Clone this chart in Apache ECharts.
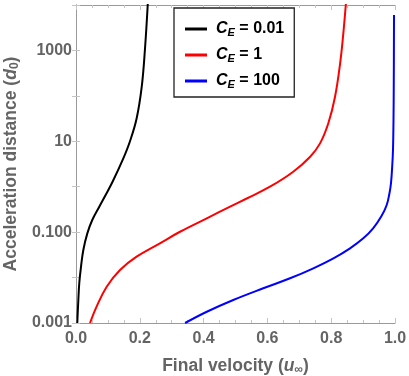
<!DOCTYPE html>
<html>
<head>
<meta charset="utf-8">
<script src="https://cdn.jsdelivr.net/npm/echarts@6/dist/echarts.min.js"></script>
<style>
html,body{margin:0;padding:0;background:#fff;}
#main{width:409px;height:376px;}
</style>
</head>
<body>
<div id="main"></div>
<script>
// ---- data ----
const seriesNames = ['C_E = 0.01', 'C_E = 1', 'C_E = 100'];
const legendValues = ['0.01', '1', '100'];

const blackU = [0.004, 0.0073, 0.0103, 0.0157, 0.0230, 0.0355, 0.051, 0.073, 0.092, 0.115, 0.148, 0.169, 0.190, 0.206, 0.216, 0.225];
const blackD = [0.001, 0.0032, 0.0076, 0.0173, 0.0405, 0.094, 0.185, 0.363, 0.64, 1.30, 4.15, 9.9, 31.6, 157, 1020, 10500];

const redU = [0.0439, 0.0649, 0.0962, 0.138, 0.190, 0.263, 0.326, 0.410, 0.483, 0.535, 0.608, 0.681, 0.734, 0.765, 0.791, 0.812, 0.828, 0.838, 0.846];
const redD = [0.001, 0.00232, 0.0063, 0.0147, 0.0288, 0.0568, 0.102, 0.202, 0.363, 0.55, 1.0, 2.14, 4.58, 9.0, 24.9, 95.8, 521, 2380, 10500];

const blueU = [0.342, 0.410, 0.493, 0.587, 0.671, 0.744, 0.807, 0.859, 0.9006, 0.932, 0.9577, 0.974, 0.9828, 0.9875, 0.9915, 0.9937, 0.9953, 0.9962, 0.9969];
const blueD = [0.001, 0.00177, 0.00321, 0.00581, 0.00964, 0.016, 0.0265, 0.044, 0.073, 0.123, 0.226, 0.395, 0.727, 1.21, 3.0, 6.43, 29.4, 223, 6030];

const yTickLabels = {'-3': '0.001', '-1': '0.100', '1': '10', '3': '1000'};

// ---- chart ----
const gray = '#646464';
const frame = '#9a9a9a';
const tickCol = '#c4c4c4';
const font = '"Liberation Sans", Arial, Helvetica, sans-serif';

function zip(u, d) { return u.map((v, i) => [v, d[i]]); }

const chart = echarts.init(document.getElementById('main'), null, {renderer: 'canvas'});

const xCommon = {
  type: 'value', min: 0, max: 1, interval: 0.2,
  axisLine: {show: true, onZero: false, lineStyle: {color: frame, width: 1}},
  axisTick: {show: true, inside: true, length: 5, lineStyle: {color: tickCol}},
  minorTick: {show: true, splitNumber: 4, length: 3, lineStyle: {color: tickCol}},
  splitLine: {show: false}, minorSplitLine: {show: false}
};
const yCommon = {
  type: 'log', logBase: 10, min: 0.001, max: 10000, splitNumber: 7,
  axisLine: {show: true, lineStyle: {color: frame, width: 1}},
  axisTick: {show: true, inside: true, length: 4, lineStyle: {color: tickCol}},
  splitLine: {show: false}
};

const titleRich = {
  t: {fontFamily: font, fontWeight: 'bold', fontSize: 17.5, color: gray},
  i: {fontFamily: font, fontWeight: 'bold', fontStyle: 'italic', fontSize: 17.5, color: gray},
  s: {fontFamily: font, fontWeight: 'bold', fontSize: 12, color: gray, padding: [7, 0, 0, 0]}
};

const option = {
  animation: false,
  backgroundColor: '#fff',
  grid: {left: 76, right: 14, top: 5, bottom: 53, containLabel: false, outerBoundsMode: 'none'},
  legend: {
    orient: 'vertical', left: 174, top: 8,
    data: seriesNames,
    icon: 'rect', itemWidth: 22, itemHeight: 3, itemGap: 9,
    backgroundColor: '#fff', borderColor: '#222', borderWidth: 1.3, borderRadius: 0,
    padding: [13, 10, 7, 11],
    formatter: function (name) {
      const k = seriesNames.indexOf(name);
      return '{c|C}{s|E}{t| = ' + legendValues[k] + '}';
    },
    textStyle: {
      fontFamily: font, color: '#000',
      rich: {
        c: {fontFamily: font, fontWeight: 'bold', fontStyle: 'italic', fontSize: 16, color: '#000', padding: [0, 0, 0, 4], lineHeight: 20},
        s: {fontFamily: font, fontWeight: 'bold', fontStyle: 'italic', fontSize: 11, color: '#000', padding: [7, 0, 0, 0]},
        t: {fontFamily: font, fontWeight: 'bold', fontSize: 16, color: '#000', lineHeight: 20}
      }
    }
  },
  xAxis: [
    Object.assign({}, xCommon, {
      position: 'bottom',
      name: '{t|Final velocity (}{i|u}{s|\u221e}{t|)}',
      nameLocation: 'middle', nameGap: 34,
      nameTextStyle: {rich: titleRich},
      axisLabel: {show: true, margin: 8, color: gray, fontFamily: font, fontWeight: 'bold', fontSize: 16,
        formatter: v => v.toFixed(1)}
    }),
    Object.assign({}, xCommon, {position: 'top', axisLabel: {show: false}})
  ],
  yAxis: [
    Object.assign({}, yCommon, {
      position: 'left',
      name: '{t|Acceleration distance (}{i|d}{s|0}{t|)}',
      nameLocation: 'middle', nameGap: 50,
      nameTextStyle: {rich: titleRich},
      axisLabel: {show: true, margin: 4, color: gray, fontFamily: font, fontWeight: 'bold', fontSize: 16,
        formatter: function (v) {
          const e = Math.round(Math.log10(v));
          return yTickLabels[String(e)] || '';
        }}
    }),
    Object.assign({}, yCommon, {position: 'right', axisLabel: {show: false}})
  ],
  series: [
    {name: seriesNames[0], type: 'line', data: zip(blackU, blackD), showSymbol: false, symbol: 'none',
      smooth: 0.4, lineStyle: {color: '#000000', width: 2}, itemStyle: {color: '#000000'}, clip: true},
    {name: seriesNames[1], type: 'line', data: zip(redU, redD), showSymbol: false, symbol: 'none',
      smooth: 0.4, lineStyle: {color: '#ff0000', width: 2}, itemStyle: {color: '#ff0000'}, clip: true},
    {name: seriesNames[2], type: 'line', data: zip(blueU, blueD), showSymbol: false, symbol: 'none',
      smooth: 0.4, lineStyle: {color: '#0000ff', width: 2}, itemStyle: {color: '#0000ff'}, clip: true}
  ]
};
chart.setOption(option);
</script>
</body>
</html>
